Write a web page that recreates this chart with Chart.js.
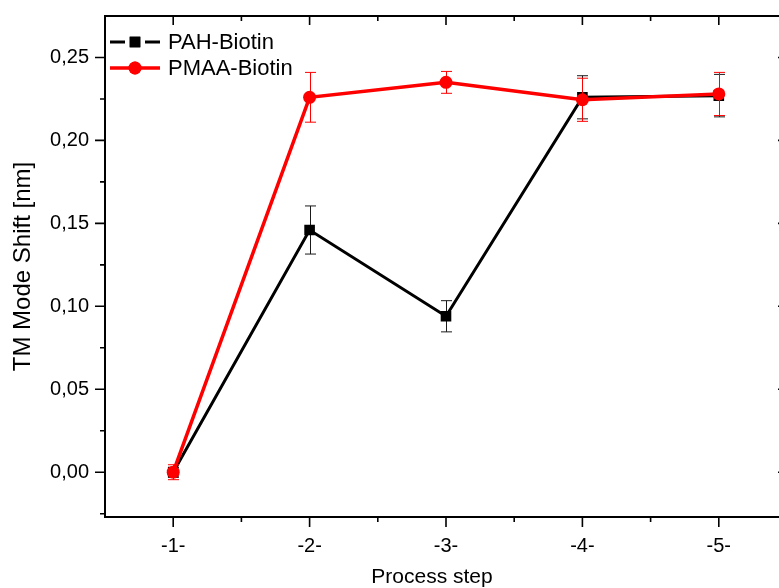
<!DOCTYPE html>
<html>
<head>
<meta charset="utf-8">
<title>TM Mode Shift</title>
<script src="https://cdn.jsdelivr.net/npm/chart.js@4.4.1/dist/chart.umd.min.js"></script>
<style>
    html, body { margin: 0; padding: 0; background: #fff; overflow: hidden; }
    #wrap { width: 779px; height: 588px; overflow: hidden; }
</style>
</head>
<body>
<div id="wrap"><canvas id="chart" width="800" height="588"></canvas></div>
<script>
// Process steps and measured shifts (nm) with their standard deviations
var steps = ['-1-', '-2-', '-3-', '-4-', '-5-'];
var pahShift = [0, 0.146, 0.094, 0.226, 0.227];
var pahErr = [0.003, 0.0145, 0.0094, 0.013, 0.0128];
var pmaaShift = [0, 0.226, 0.235, 0.2245, 0.228];
var pmaaErr = [0.0045, 0.015, 0.0066, 0.013, 0.013];
var yTicks = [0, 0.05, 0.10, 0.15, 0.20, 0.25];
var yMin = -0.027;
var yMax = 0.275;

var FONT = 'Arial, "Liberation Sans", sans-serif';

// Error bars drawn under each dataset's line and markers
var errorBars = {
    id: 'errorBars',
    beforeDatasetDraw: function (chart, args) {
        var ds = chart.data.datasets[args.index];
        if (!ds.errors) return;
        var y = chart.scales.y;
        var ctx = chart.ctx;
        ctx.save();
        ctx.strokeStyle = ds.errorColor;
        ctx.lineWidth = 1;
        args.meta.data.forEach(function (pt, i) {
            var v = ds.data[i], e = ds.errors[i];
            var top = y.getPixelForValue(v + e), bot = y.getPixelForValue(v - e);
            var x = Math.round(pt.x) + 0.5;
            ctx.beginPath();
            ctx.moveTo(x, top); ctx.lineTo(x, bot);
            ctx.moveTo(x - 5.5, top); ctx.lineTo(x + 5.5, top);
            ctx.moveTo(x - 5.5, bot); ctx.lineTo(x + 5.5, bot);
            ctx.stroke();
        });
        ctx.restore();
    }
};

// Box frame with outward ticks (left/bottom) and inward ticks (top/right)
var frame = {
    id: 'frame',
    afterDatasetsDraw: function (chart) {
        var a = chart.chartArea, ctx = chart.ctx;
        var x = chart.scales.x, y = chart.scales.y;
        var step = x.getPixelForTick(1) - x.getPixelForTick(0);
        ctx.save();
        ctx.strokeStyle = '#000';
        ctx.lineWidth = 2;
        ctx.strokeRect(a.left, a.top, a.right - a.left, a.bottom - a.top);

        ctx.lineWidth = 1.6;
        ctx.beginPath();
        steps.forEach(function (s, i) {
            var px = x.getPixelForTick(i);
            ctx.moveTo(px, a.bottom); ctx.lineTo(px, a.bottom + 10);
            ctx.moveTo(px, a.top); ctx.lineTo(px, a.top + 9);
            var mx = px + step / 2;
            if (mx < a.right - 2) {
                ctx.moveTo(mx, a.bottom); ctx.lineTo(mx, a.bottom + 5);
                ctx.moveTo(mx, a.top); ctx.lineTo(mx, a.top + 5);
            }
        });
        var half = (yTicks[1] - yTicks[0]) / 2;
        yTicks.forEach(function (v, i) {
            var py = y.getPixelForValue(v);
            ctx.moveTo(a.left - 10, py); ctx.lineTo(a.left, py);
            ctx.moveTo(a.right - 9, py); ctx.lineTo(a.right, py);
            [v - half, v + half].forEach(function (m) {
                if (m <= yMin || m >= yMax) return;
                if (i > 0 && m < v) return;
                var my = y.getPixelForValue(m);
                ctx.moveTo(a.left - 5, my); ctx.lineTo(a.left, my);
                ctx.moveTo(a.right - 5, my); ctx.lineTo(a.right, my);
            });
        });
        ctx.stroke();

        // x axis title, centred under the visible part of the plot
        ctx.fillStyle = '#000';
        ctx.font = '21px ' + FONT;
        ctx.textAlign = 'center';
        ctx.textBaseline = 'middle';
        ctx.fillText('Process step', 432, 577);
        ctx.restore();
    }
};

// Legend in the upper left corner of the plot: line sample with marker
var legendBox = {
    id: 'legendBox',
    afterDraw: function (chart) {
        var ctx = chart.ctx, a = chart.chartArea;
        ctx.save();
        ctx.font = '22px ' + FONT;
        ctx.textBaseline = 'middle';
        chart.data.datasets.forEach(function (ds, row) {
            var yy = a.top + 26 + row * 26;
            var x0 = a.left + 5, x1 = a.left + 55, cx = (x0 + x1) / 2;
            var gap = ds.pointStyle === 'rect' ? 10 : 0;
            ctx.strokeStyle = ds.borderColor;
            ctx.lineWidth = ds.borderWidth;
            ctx.beginPath();
            ctx.moveTo(x0, yy); ctx.lineTo(cx - gap, yy);
            ctx.moveTo(cx + gap, yy); ctx.lineTo(x1, yy);
            ctx.stroke();
            ctx.fillStyle = ds.backgroundColor;
            Chart.helpers.drawPoint(ctx, { pointStyle: ds.pointStyle, radius: ds.pointRadius, borderWidth: 0, rotation: 0 }, cx, yy);
            ctx.fill();
            ctx.fillStyle = '#000';
            ctx.fillText(ds.label, x1 + 8, yy + 1);
        });
        ctx.restore();
    }
};

new Chart(document.getElementById('chart'), {
    type: 'line',
    data: {
        labels: steps,
        datasets: [
            {
                label: 'PAH-Biotin', data: pahShift, errors: pahErr, errorColor: '#1a1a1a',
                borderColor: '#000', backgroundColor: '#000', borderWidth: 3,
                pointStyle: 'rect', pointRadius: 7.5, pointBorderWidth: 0, order: 1
            },
            {
                label: 'PMAA-Biotin', data: pmaaShift, errors: pmaaErr, errorColor: '#f00',
                borderColor: '#f00', backgroundColor: '#f00', borderWidth: 3.5,
                pointStyle: 'circle', pointRadius: 6.5, pointBorderWidth: 0, order: 0
            }
        ]
    },
    options: {
        responsive: false,
        animation: false,
        devicePixelRatio: 1,
        layout: { padding: { top: 16, right: 13, left: 0, bottom: 0 } },
        plugins: { legend: { display: false }, tooltip: { enabled: false } },
        scales: {
            x: {
                type: 'category',
                offset: true,
                grid: { display: false, drawTicks: false },
                border: { display: false },
                ticks: { color: '#000', font: { family: FONT, size: 20 }, padding: 17 },
                afterFit: function (s) { s.height = 71; s.paddingLeft = 0; s.paddingRight = 0; }
            },
            y: {
                min: yMin,
                max: yMax,
                afterBuildTicks: function (s) { s.ticks = yTicks.map(function (v) { return { value: v }; }); },
                grid: { display: false, drawTicks: false },
                border: { display: false },
                ticks: {
                    color: '#000', font: { family: FONT, size: 20 }, padding: 16,
                    callback: function (v) { return v.toFixed(2).replace('.', ','); }
                },
                title: { display: true, text: 'TM Mode Shift [nm]', color: '#000', font: { family: FONT, size: 24 }, padding: { top: 9, bottom: 0 } },
                afterFit: function (s) { s.width = 105; s.paddingTop = 0; s.paddingBottom = 0; }
            }
        }
    },
    plugins: [errorBars, frame, legendBox]
});
</script>
</body>
</html>
